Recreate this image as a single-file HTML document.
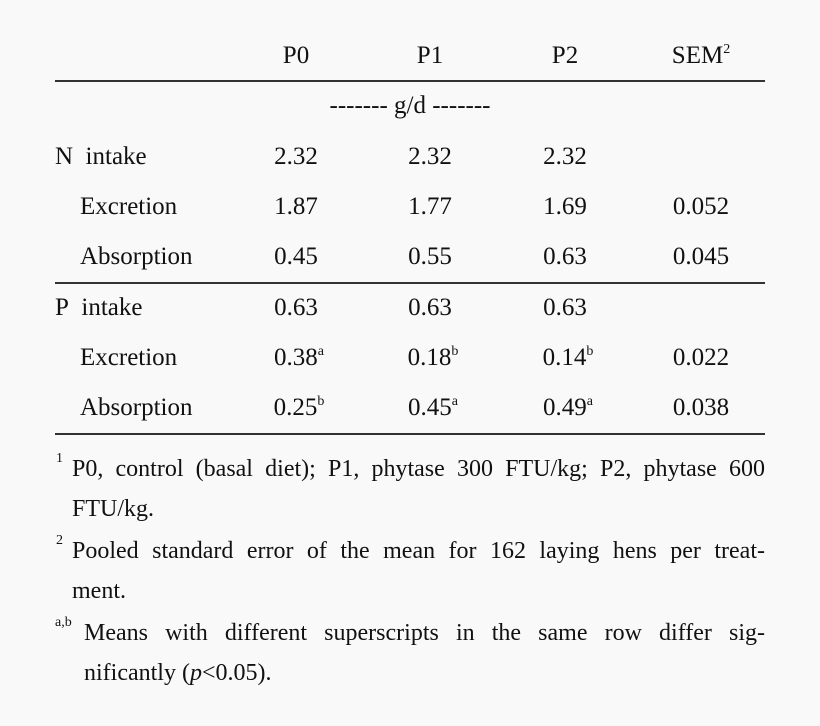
<!DOCTYPE html>
<html><head><meta charset="utf-8"><style>
body{margin:0;width:820px;height:726px;background:#f9f9f9;position:relative;overflow:hidden;font-family:"Liberation Serif",serif;color:#111;font-size:25px}
.t{position:absolute;white-space:nowrap;line-height:1}
.c{transform:translateX(-50%)}
.ln{position:absolute;left:55px;width:710px;height:1.5px;background:#333}
sup{font-size:14px;vertical-align:10px;line-height:0}
.fl{position:absolute;white-space:nowrap;text-align:justify;text-align-last:justify;font-size:24px;line-height:1}
</style></head><body>
<div class="t c" style="left:296px;top:43px">P0</div>
<div class="t c" style="left:430px;top:43px">P1</div>
<div class="t c" style="left:565px;top:43px">P2</div>
<div class="t c" style="left:701px;top:43px">SEM<sup>2</sup></div>
<div class="ln" style="top:80px"></div>
<div class="t c" style="left:410px;top:93px">------- g/d -------</div>

<div class="t" style="left:55px;top:144px">N&nbsp; intake</div>
<div class="t c" style="left:296px;top:144px">2.32</div>
<div class="t c" style="left:430px;top:144px">2.32</div>
<div class="t c" style="left:565px;top:144px">2.32</div>

<div class="t" style="left:80px;top:194px">Excretion</div>
<div class="t c" style="left:296px;top:194px">1.87</div>
<div class="t c" style="left:430px;top:194px">1.77</div>
<div class="t c" style="left:565px;top:194px">1.69</div>
<div class="t c" style="left:701px;top:194px">0.052</div>

<div class="t" style="left:80px;top:244px">Absorption</div>
<div class="t c" style="left:296px;top:244px">0.45</div>
<div class="t c" style="left:430px;top:244px">0.55</div>
<div class="t c" style="left:565px;top:244px">0.63</div>
<div class="t c" style="left:701px;top:244px">0.045</div>
<div class="ln" style="top:282px"></div>

<div class="t" style="left:55px;top:295px">P&nbsp; intake</div>
<div class="t c" style="left:296px;top:295px">0.63</div>
<div class="t c" style="left:430px;top:295px">0.63</div>
<div class="t c" style="left:565px;top:295px">0.63</div>

<div class="t" style="left:80px;top:345px">Excretion</div>
<div class="t c" style="left:299px;top:345px">0.38<sup>a</sup></div>
<div class="t c" style="left:433px;top:345px">0.18<sup>b</sup></div>
<div class="t c" style="left:568px;top:345px">0.14<sup>b</sup></div>
<div class="t c" style="left:701px;top:345px">0.022</div>

<div class="t" style="left:80px;top:395px">Absorption</div>
<div class="t c" style="left:299px;top:395px">0.25<sup>b</sup></div>
<div class="t c" style="left:433px;top:395px">0.45<sup>a</sup></div>
<div class="t c" style="left:568px;top:395px">0.49<sup>a</sup></div>
<div class="t c" style="left:701px;top:395px">0.038</div>
<div class="ln" style="top:433px"></div>

<div class="t" style="left:56px;top:452px;font-size:14px">1</div>
<div class="fl" style="left:72px;width:693px;top:457px">P0, control (basal diet); P1, phytase 300 FTU/kg; P2, phytase 600</div>
<div class="t" style="left:72px;top:497px;font-size:24px">FTU/kg.</div>
<div class="t" style="left:56px;top:534px;font-size:14px">2</div>
<div class="fl" style="left:72px;width:693px;top:539px">Pooled standard error of the mean for 162 laying hens per treat-</div>
<div class="t" style="left:72px;top:579px;font-size:24px">ment.</div>
<div class="t" style="left:55px;top:616px;font-size:14px">a,b</div>
<div class="fl" style="left:84px;width:681px;top:621px">Means with different superscripts in the same row differ sig-</div>
<div class="t" style="left:84px;top:661px;font-size:24px">nificantly (<i>p</i>&lt;0.05).</div>
</body></html>
